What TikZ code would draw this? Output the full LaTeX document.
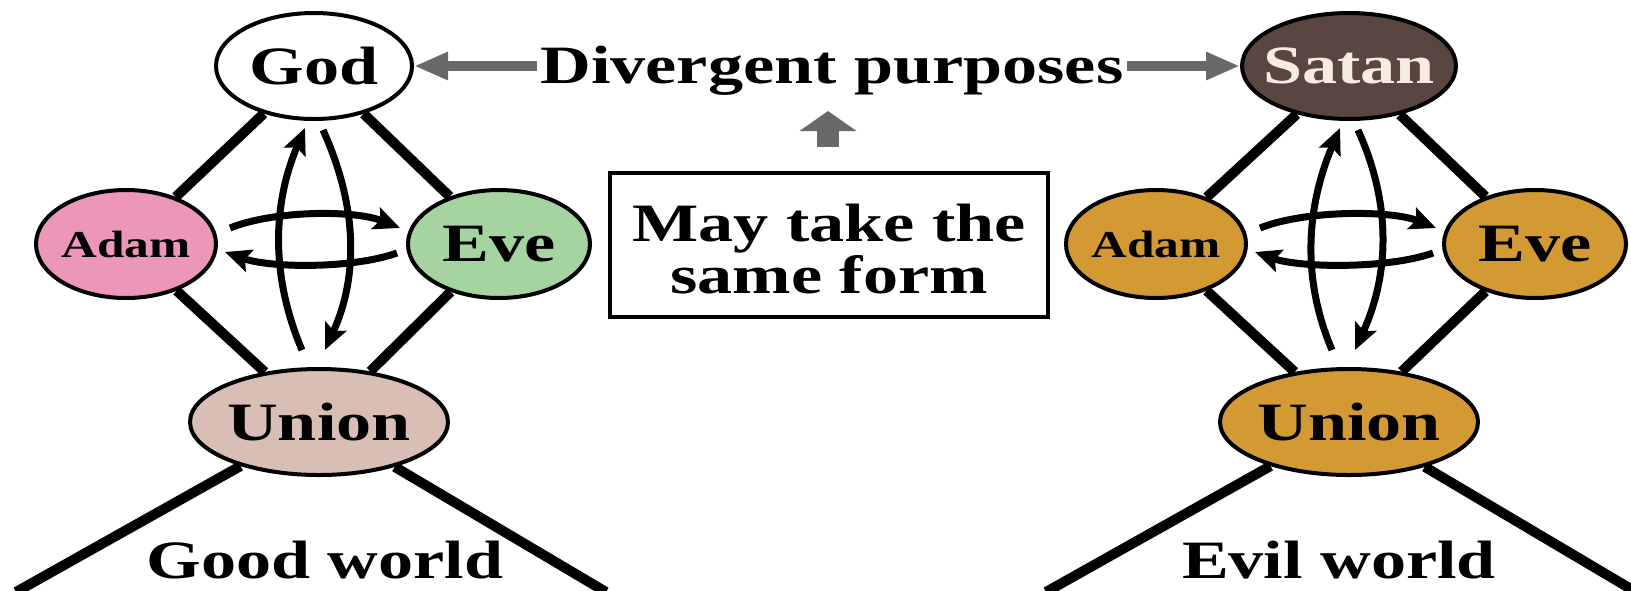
\documentclass[tikz,border=0pt]{standalone}
\usepackage{fontspec}
\setmainfont{Liberation Serif}[FakeStretch=1.3]
\usetikzlibrary{arrows.meta,shapes.geometric}
\definecolor{adampink}{RGB}{236,150,185}
\definecolor{evegreen}{RGB}{166,212,160}
\definecolor{unionbeige}{RGB}{216,190,180}
\definecolor{satanbrown}{RGB}{90,70,64}
\definecolor{satantext}{RGB}{248,236,226}
\definecolor{goldfill}{RGB}{211,154,52}
\definecolor{arrowgray}{RGB}{105,105,105}
\newcommand\drawworld[7]{%
  % #1 xshift, #2 suffix, #3 top text, #4 top x, #5 world label, #6 label x, #7 eve x
  \begin{scope}[xshift=#1]
    \node[orb, topstyle#2, bigfont] (top#2) at (#4,66) {#3};
    \node[orb, adamstyle#2, minimum width=180, minimum height=108, smallfont] (adam#2) at (126,244) {Adam};
    \node[orb, evestyle#2, minimum width=182, minimum height=108, bigfont] (eve#2) at (#7,244) {Eve};
    \node[orb, unionstyle#2, minimum width=258, minimum height=106, bigfont] (union#2) at (319,422) {Union};
    \node[bigfont, anchor=base] (label#2) at (#6,578) {#5};
    \coordinate (bl#2) at (16,592);
    \coordinate (br#2) at (606,592);
    \draw[link] (top#2) -- (adam#2);
    \draw[link] (top#2) -- (eve#2);
    \draw[link] (adam#2) -- (union#2);
    \draw[link] (eve#2) -- (union#2);
    \draw[link] (union#2) -- (bl#2);
    \draw[link] (union#2) -- (br#2);
    \draw[loopline] ([shift={(-17,-72)}]union#2.center) .. controls +(-32,-75) and +(-32,75) .. ([shift={(-9,62)}]top#2.center);
    \draw[loopline] ([shift={(9,64)}]top#2.center) .. controls +(34,75) and +(34,-75) .. ([shift={(6,-72)}]union#2.center);
    \draw[loopline] ([shift={(104,-16)}]adam#2.center) .. controls +(45,-18) and +(-45,-18) .. ([shift={(-99,-16)}]eve#2.center);
    \draw[loopline] ([shift={(-102,9)}]eve#2.center) .. controls +(-45,16) and +(45,16) .. ([shift={(99,8)}]adam#2.center);
  \end{scope}}
\begin{document}
\begin{tikzpicture}[x=1pt,y=-1pt,
  bigfont/.style={font=\fontsize{54}{54}\selectfont\bfseries},
  boxfont/.style={font=\fontsize{54}{52}\selectfont\bfseries},
  smallfont/.style={font=\fontsize{38}{38}\selectfont\bfseries},
  orb/.style={ellipse, draw=black, line width=4pt, inner xsep=-14pt, inner ysep=0pt},
  link/.style={line width=10pt},
  loopline/.style={line width=7pt, -{Stealth[length=26pt,width=23pt,inset=5pt]}},
  grayarrow/.style={draw=arrowgray, line width=10pt, -{Triangle[length=34pt,width=26pt]}},
  topstyleL/.style={fill=white, text=black, minimum width=196, minimum height=106},
  adamstyleL/.style={fill=adampink},
  evestyleL/.style={fill=evegreen},
  unionstyleL/.style={fill=unionbeige},
  topstyleR/.style={fill=satanbrown, text=satantext, minimum width=214, minimum height=106},
  adamstyleR/.style={fill=goldfill},
  evestyleR/.style={fill=goldfill},
  unionstyleR/.style={fill=goldfill},
]
\useasboundingbox (0,0) rectangle (1631,590);
\drawworld{0pt}{L}{God}{314}{Good world}{325}{499}
\drawworld{1030pt}{R}{Satan}{319}{Evil world}{309}{505}
\node[bigfont, anchor=base] (div) at (832,83) {Divergent purposes};
\draw[grayarrow] (div.west |- topL.east) -- (topL.east);
\draw[grayarrow] (div.east |- topR.west) -- (topR.west);
\node[draw=black, line width=3.5pt, minimum width=438, minimum height=144,
  label={[boxfont, align=center, yshift=-4pt]center:May take the\\same form}] (box) at (829,245) {};
\coordinate (upend) at (828,111);
\draw[draw=arrowgray, line width=22pt, -{Triangle[length=20pt,width=56pt]}] (box.north -| upend) ++(0,-24) -- (upend);
\end{tikzpicture}
\end{document}
